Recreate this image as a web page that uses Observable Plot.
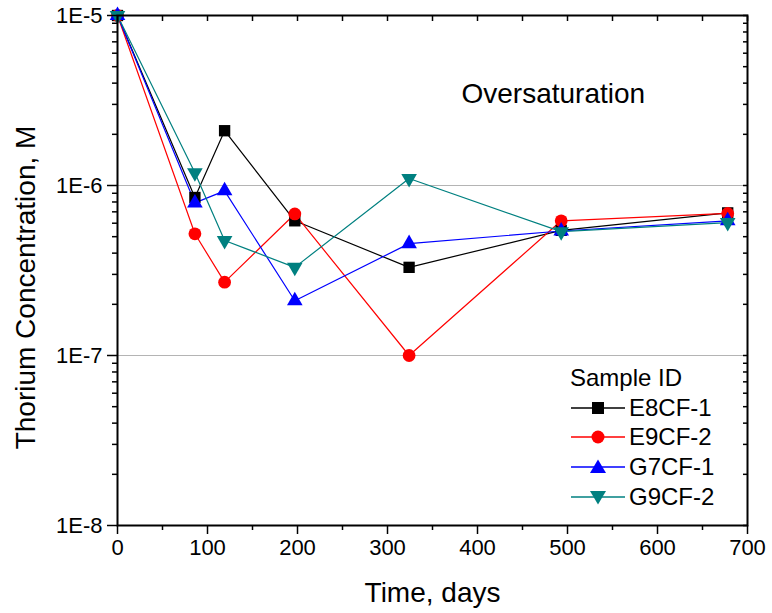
<!DOCTYPE html>
<html><head><meta charset="utf-8">
<script src="https://cdn.jsdelivr.net/npm/d3@7"></script>
<script src="https://cdn.jsdelivr.net/npm/@observablehq/plot@0.6"></script>
<style>
body{margin:0;background:#fff;}
#wrap{position:relative;width:772px;height:613px;font-family:"Liberation Sans",Arial,sans-serif;}
#legend{position:absolute;left:570px;top:363px;font-size:24px;line-height:29.7px;color:#000;}
#legend .row{display:flex;align-items:center;height:29.7px;}
#legend svg{margin-right:3px;}
</style></head><body><div id="wrap"></div>
<script>
// ---- data ----
const days = [0, 86, 119, 197, 324, 493, 678];
const seriesNames = ["E8CF-1", "E9CF-2", "G7CF-1", "G9CF-2"];
const E8CF1 = [1e-5, 8.5e-7, 2.1e-6, 6.2e-7, 3.3e-7, 5.45e-7, 6.9e-7];
const E9CF2 = [1e-5, 5.2e-7, 2.7e-7, 6.8e-7, 1.0e-7, 6.2e-7, 6.85e-7];
const G7CF1 = [1e-5, 7.9e-7, 9.3e-7, 2.1e-7, 4.55e-7, 5.4e-7, 6.2e-7];
const G9CF2 = [1e-5, 1.19e-6, 4.75e-7, 3.3e-7, 1.1e-6, 5.35e-7, 6.05e-7];
const seriesValues = [E8CF1, E9CF2, G7CF1, G9CF2];
const seriesColors = ["#000000", "#ff0000", "#0000ff", "#008080"];
const xTicks = [0, 100, 200, 300, 400, 500, 600, 700];
const xMinorTicks = [50, 150, 250, 350, 450, 550, 650];
const yTicks = [1e-8, 1e-7, 1e-6, 1e-5];
const yTickLabels = ["1E-8", "1E-7", "1E-6", "1E-5"];
const gridTicks = [1e-7, 1e-6];
const annotation = "Oversaturation";
const xTitle = "Time, days";
const yTitle = "Thorium Concentration, M";
const legendTitle = "Sample ID";

// ---- build ----
const yMinor = [];
for (const d of [1e-8, 1e-7, 1e-6]) for (let k = 2; k <= 9; k++) yMinor.push(k * d);
const yAll = yTicks.concat(yMinor);
const xAll = xTicks.concat(xMinorTicks);

const triDown = {
  draw(ctx, size) {
    const s = Math.sqrt(size * 4 / Math.sqrt(3));
    const h = s * Math.sqrt(3) / 2;
    ctx.moveTo(-s / 2, -h / 3);
    ctx.lineTo(s / 2, -h / 3);
    ctx.lineTo(0, 2 * h / 3);
    ctx.closePath();
  }
};
const symbols = ["square", "circle", "triangle", triDown];
const radii = [6.4, 6.4, 5.8, 5.8];

const rows = [];
seriesValues.forEach((vals, i) => vals.forEach((v, j) => rows.push({series: seriesNames[i], day: days[j], value: v})));

const marks = [
  Plot.gridY(gridTicks, {stroke: "#b4b4b4", strokeOpacity: 1, strokeWidth: 1.2}),
  ...seriesNames.map((name, i) => Plot.line(rows.filter(r => r.series === name), {x: "day", y: "value", stroke: seriesColors[i], strokeWidth: 1.2})),
  ...seriesNames.map((name, i) => Plot.dot(rows.filter(r => r.series === name), {x: "day", y: "value", fill: seriesColors[i], symbol: () => symbols[i], r: radii[i], stroke: "none"})),
  Plot.frame({stroke: "#000", strokeWidth: 2}),
  Plot.axisY({ticks: yTicks, tickFormat: d => yTickLabels[yTicks.indexOf(d)], tickSize: 10, tickPadding: 5, fontSize: 22, label: null, strokeWidth: 1.5}),
  Plot.axisY({ticks: yMinor, tickFormat: () => "", tickSize: 5, label: null, strokeWidth: 1.5}),
  Plot.axisY({anchor: "right", ticks: yAll, tickFormat: () => "", tickSize: 5, dx: -5, label: null, strokeWidth: 1.5}),
  Plot.axisX({ticks: xTicks, tickFormat: d => String(d), tickSize: 9, tickPadding: 5, fontSize: 22, label: null, strokeWidth: 1.5}),
  Plot.axisX({ticks: xMinorTicks, tickFormat: () => "", tickSize: 5, label: null, strokeWidth: 1.5}),
  Plot.axisX({anchor: "top", ticks: xAll, tickFormat: () => "", tickSize: 5, dy: 5, label: null, strokeWidth: 1.5}),
  Plot.text([annotation], {frameAnchor: "top-left", textAnchor: "start", lineAnchor: "middle", dx: 344, dy: 79, fontSize: 28}),
  Plot.text([xTitle], {frameAnchor: "bottom", textAnchor: "middle", lineAnchor: "middle", dy: 68, fontSize: 28}),
  Plot.text([yTitle], {frameAnchor: "left", textAnchor: "middle", lineAnchor: "middle", rotate: -90, dx: -91, dy: 17, fontSize: 28})
];

const chart = Plot.plot({
  width: 772,
  height: 613,
  marginLeft: 117,
  marginRight: 25,
  marginTop: 15,
  marginBottom: 88,
  style: {fontFamily: '"Liberation Sans", Arial, sans-serif', background: "#fff", color: "#000"},
  x: {domain: [0, 700]},
  y: {type: "log", domain: [1e-8, 1e-5]},
  marks
});
const wrap = document.getElementById("wrap");
wrap.appendChild(chart);

// legend overlay
const legend = document.createElement("div");
legend.id = "legend";
let html = `<div class="row">${legendTitle}</div>`;
const legendSymbols = [
  c => `<rect x="22" y="-6" width="12" height="12" fill="${c}"/>`,
  c => `<circle cx="28" cy="0" r="6.5" fill="${c}"/>`,
  c => `<path d="M28,-7.5L36,6L20,6Z" fill="${c}"/>`,
  c => `<path d="M28,7.5L36,-6L20,-6Z" fill="${c}"/>`
];
seriesNames.forEach((n, i) => {
  html += `<div class="row"><svg width="56" height="20" viewBox="0 -10 56 20"><line x1="1" x2="55" y1="0" y2="0" stroke="${seriesColors[i]}" stroke-width="1.3"/>${legendSymbols[i](seriesColors[i])}</svg><span>${n}</span></div>`;
});
legend.innerHTML = html;
wrap.appendChild(legend);
</script></body></html>
